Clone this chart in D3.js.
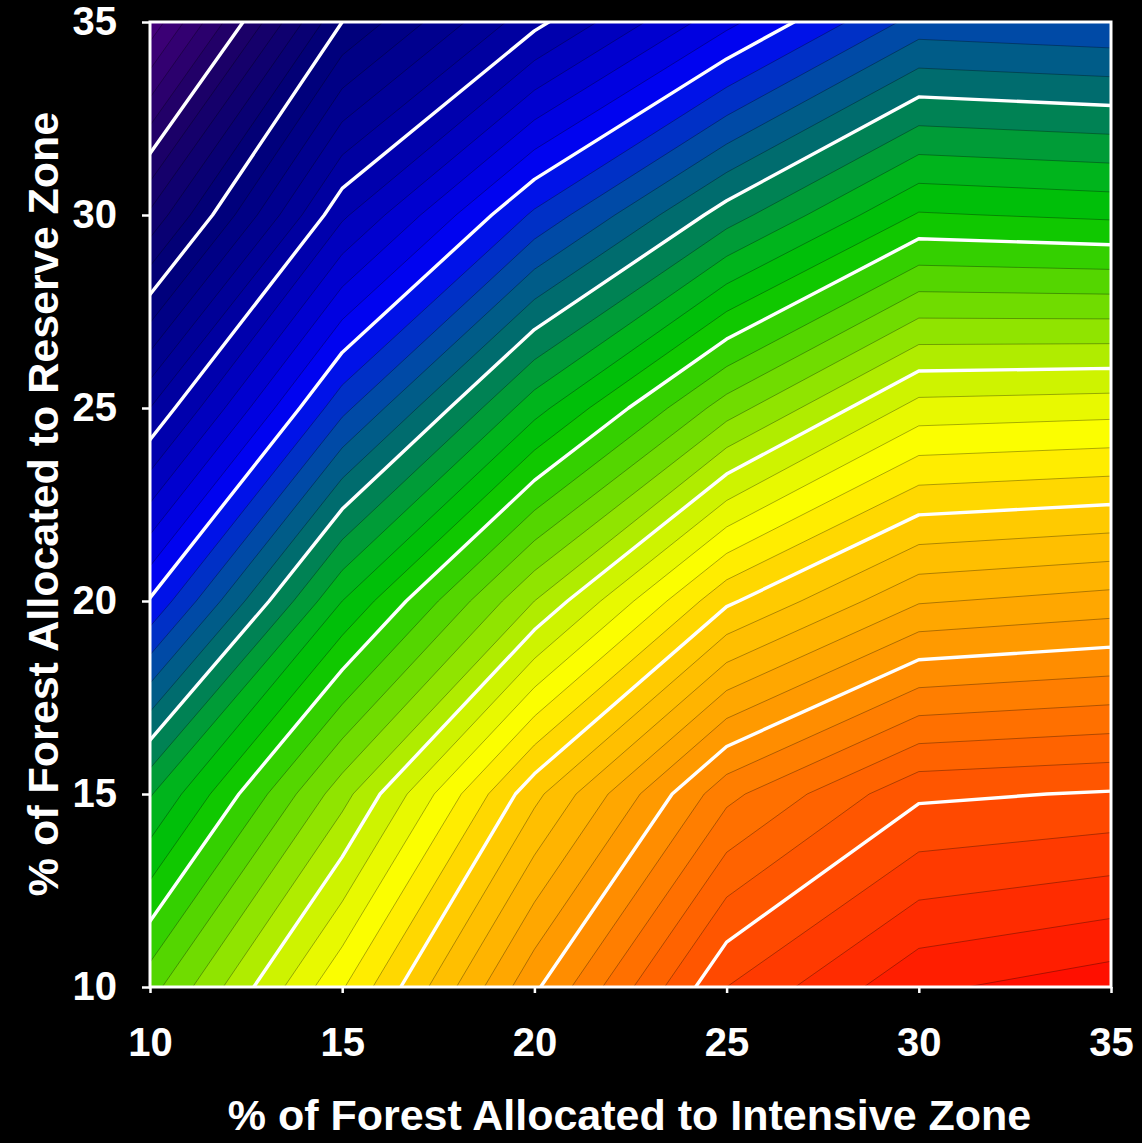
<!DOCTYPE html>
<html>
<head>
<meta charset="utf-8">
<script src="https://cdn.jsdelivr.net/npm/d3@7"></script>
<style>
  body { margin: 0; background: #000; }
  text { font-family: "Liberation Sans", Arial, Helvetica, sans-serif; font-weight: bold; fill: #fff; }
</style>
</head>
<body>
<svg id="chart" width="1142" height="1143"></svg>
<script>
// Grid of the surface: intensive zone % along x, reserve zone % along y
const intensivePct = [10, 15, 20, 25, 30, 35];
const reservePct = [35, 30, 25, 20, 15, 10]; // rows, top to bottom

// Surface values, one row per reserve %
const reserve35 = [5.3, 15.0, 19.7, 23.7, 27.4, 27.1];
const reserve30 = [12.2, 20.8, 26.2, 30.5, 34.1, 33.8];
const reserve25 = [19.0, 26.7, 32.6, 37.5, 41.4, 41.6];
const reserve20 = [25.1, 33.0, 39.0, 44.8, 47.9, 48.4];
const reserve15 = [31.9, 38.6, 45.7, 51.7, 54.8, 55.1];
const reserve10 = [36.6, 42.9, 49.8, 56.0, 58.8, 59.6];

// Contour levels: thin line every unit, white line every 5
const levels = d3.range(0, 61, 1);
const majorStep = 5;

const tickValues = [10, 15, 20, 25, 30, 35];

const margin = { top: 22, right: 31, bottom: 156, left: 150 };
const width = 1142 - margin.left - margin.right;
const height = 1143 - margin.top - margin.bottom;

const svg = d3.select("#chart");
const g = svg.append("g").attr("transform", `translate(${margin.left},${margin.top})`);

const x = d3.scaleLinear().domain([10, 35]).range([0, width]);
const y = d3.scaleLinear().domain([10, 35]).range([height, 0]);

// rainbow ramp used by the bands
const color = d3.scaleLinear()
  .domain([5, 10, 15, 20, 23, 25, 26, 27, 28, 29, 30, 31, 32.5, 34, 35, 36, 37, 38, 39, 40, 41, 42, 42.8, 44, 45, 47.5, 50, 52.5, 55, 57.5, 60])
  .range(["#48007c", "#1e0066", "#000078", "#0000a4", "#0000d8", "#0004f8", "#0020d8", "#0040b4", "#005498", "#006478",
          "#007464", "#009044", "#00b41c", "#00c400", "#20cc00", "#48d400", "#60d800", "#80e000", "#a0e800", "#c0f000",
          "#dcf600", "#f4fc00", "#ffff00", "#ffe000", "#ffd000", "#ffb400", "#ff9400", "#ff7000", "#ff5000", "#ff2c00", "#ff0800"])
  .clamp(true);

const values = [reserve35, reserve30, reserve25, reserve20, reserve15, reserve10].flat();
const contours = d3.contours()
  .size([intensivePct.length, reservePct.length])
  .thresholds(levels)(values);

// grid cell centres -> data coordinates
const gx = d3.scaleLinear().domain([0.5, intensivePct.length - 0.5]).range([x(intensivePct[0]), x(intensivePct[intensivePct.length - 1])]);
const gy = d3.scaleLinear().domain([0.5, reservePct.length - 0.5]).range([y(reservePct[0]), y(reservePct[reservePct.length - 1])]);
const path = d3.geoPath(d3.geoTransform({
  point: function (px, py) { this.stream.point(gx(px), gy(py)); }
}));

svg.append("defs").append("clipPath").attr("id", "plot-clip")
  .append("rect").attr("width", width).attr("height", height);

const plot = g.append("g").attr("clip-path", "url(#plot-clip)");

plot.selectAll("path.band")
  .data(contours)
  .enter()
  .append("path")
  .attr("class", "band")
  .attr("d", path)
  .attr("fill", (d) => color(d.value + 0.5));

plot.selectAll("path.minor")
  .data(contours.filter((d) => d.value % majorStep !== 0 && d.coordinates.length))
  .enter()
  .append("path")
  .attr("class", "minor")
  .attr("d", path)
  .attr("fill", "none")
  .attr("stroke", "rgba(0,0,0,0.45)")
  .attr("stroke-width", 0.7);

plot.selectAll("path.major")
  .data(contours.filter((d) => d.value % majorStep === 0 && d.coordinates.length))
  .enter()
  .append("path")
  .attr("class", "major")
  .attr("d", path)
  .attr("fill", "none")
  .attr("stroke", "#fff")
  .attr("stroke-width", 3.4)
  .attr("stroke-linejoin", "round");

// frame
g.append("rect")
  .attr("width", width)
  .attr("height", height)
  .attr("fill", "none")
  .attr("stroke", "#fff")
  .attr("stroke-width", 3);

// Axes
const xAxis = g.append("g")
  .attr("transform", `translate(0,${height})`)
  .call(d3.axisBottom(x).tickValues(tickValues).tickSize(6).tickSizeOuter(0).tickPadding(35));

const yAxis = g.append("g")
  .call(d3.axisLeft(y).tickValues(tickValues).tickSize(8).tickSizeOuter(0).tickPadding(25));

[xAxis, yAxis].forEach((ax) => {
  ax.select(".domain").remove();
  ax.selectAll(".tick line").attr("stroke", "#fff").attr("stroke-width", 2.5);
  ax.selectAll(".tick text")
    .attr("fill", "#fff")
    .style("font-size", "40px")
    .style("font-family", '"Liberation Sans", Arial, sans-serif')
    .style("font-weight", "bold");
});

// Axis titles
svg.append("text")
  .attr("x", margin.left + width / 2 - 1)
  .attr("y", 1130)
  .attr("text-anchor", "middle")
  .style("font-size", "43px")
  .text("% of Forest Allocated to Intensive Zone");

svg.append("text")
  .attr("transform", `translate(58,${504}) rotate(-90)`)
  .attr("text-anchor", "middle")
  .style("font-size", "43px")
  .text("% of Forest Allocated to Reserve Zone");
</script>
</body>
</html>
